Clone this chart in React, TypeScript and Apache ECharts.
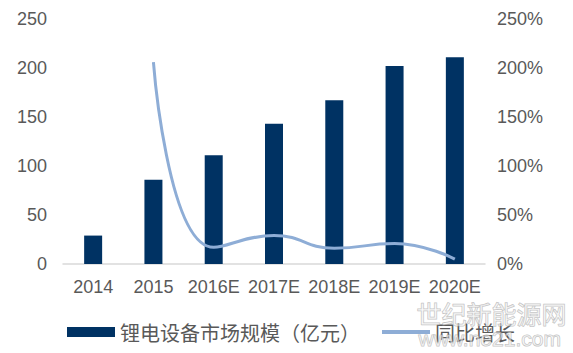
import React, { useEffect, useRef } from "react";
import * as echarts from "echarts";

const categories = ["2014", "2015", "2016E", "2017E", "2018E", "2019E", "2020E"];
const marketSize = [29, 86, 111, 143, 167, 202, 211];
const growth = [null, 206, 17, 29, 16, 21, 5];
const leftTicks = [0, 50, 100, 150, 200, 250];

export default function App() {
  const ref = useRef<HTMLDivElement>(null);
  useEffect(() => {
    if (!ref.current) return;
    const chart = echarts.init(ref.current, undefined, { renderer: "svg" });
    const font = "'Liberation Sans', Arial, sans-serif";
    const cjk = "'Noto Sans CJK SC', 'Liberation Sans', sans-serif";
    const txt = "#595959";
    chart.setOption({
      animation: false,
      grid: { left: 63, right: 88, top: 19, bottom: 89 },
      legend: {
        left: 62,
        top: 317,
        itemGap: 20,
        itemWidth: 48,
        itemHeight: 10,
        textStyle: { color: txt, fontSize: 20, fontFamily: cjk },
        data: [
          { name: "锂电设备市场规模（亿元）", icon: "rect" },
          { name: "同比增长", itemStyle: { opacity: 0 }, lineStyle: { width: 4 } },
        ],
      },
      xAxis: {
        type: "category",
        data: categories,
        axisLine: { lineStyle: { color: "#D9D9D9", width: 1.5 } },
        axisTick: { show: false },
        axisLabel: {
          color: txt,
          fontSize: 18,
          fontFamily: font,
          margin: 14,
          interval: 0,
          hideOverlap: false,
        },
      },
      yAxis: [
        {
          type: "value",
          min: leftTicks[0],
          max: leftTicks[leftTicks.length - 1],
          interval: 50,
          splitLine: { show: false },
          axisLine: { show: false },
          axisTick: { show: false },
          axisLabel: { color: txt, fontSize: 18, fontFamily: font, margin: 16 },
        },
        {
          type: "value",
          min: 0,
          max: 250,
          interval: 50,
          splitLine: { show: false },
          axisLine: { show: false },
          axisTick: { show: false },
          axisLabel: {
            color: txt,
            fontSize: 18,
            fontFamily: font,
            margin: 12,
            formatter: "{value}%",
          },
        },
      ],
      series: [
        {
          name: "锂电设备市场规模（亿元）",
          type: "bar",
          data: marketSize,
          barWidth: 18,
          itemStyle: { color: "#003263" },
        },
        {
          name: "同比增长",
          type: "line",
          yAxisIndex: 1,
          data: growth,
          smooth: 0.5,
          symbol: "none",
          lineStyle: { color: "#8EADD6", width: 3 },
          itemStyle: { color: "#8EADD6" },
        },
      ],
      graphic: [
        {
          type: "text",
          left: 416,
          top: 300,
          z: 100,
          style: {
            text: "世纪新能源网",
            fontSize: 25,
            fontFamily: "'Noto Sans CJK SC', sans-serif",
            fill: "rgba(255,255,255,0.45)",
            stroke: "rgba(150,150,150,0.6)",
            lineWidth: 1,
          },
        },
        {
          type: "text",
          left: 418,
          top: 327,
          z: 100,
          style: {
            text: "www.ne21.com",
            fontSize: 21,
            fontFamily: font,
            fill: "rgba(255,255,255,0.45)",
            stroke: "rgba(150,150,150,0.6)",
            lineWidth: 1,
          },
        },
      ],
    });
    return () => chart.dispose();
  }, []);
  return <div ref={ref} style={{ width: 573, height: 353, position: "absolute", left: 0, top: 0 }} />;
}
